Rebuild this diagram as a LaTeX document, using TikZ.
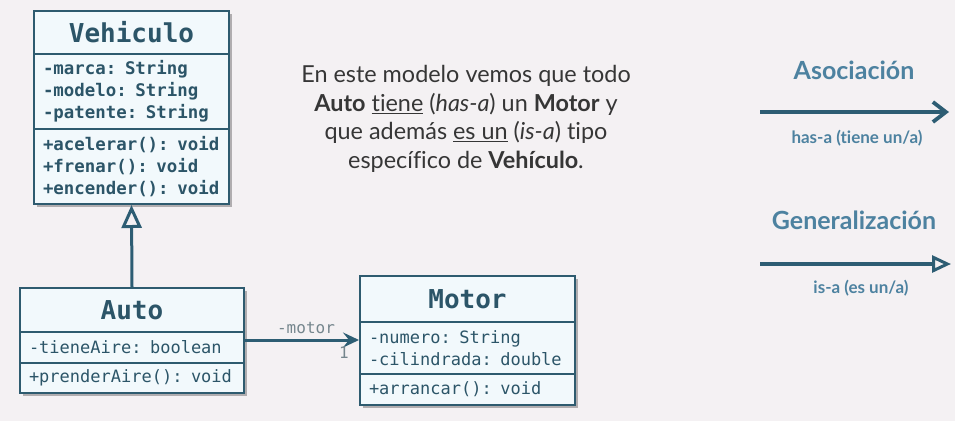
\documentclass[tikz,border=0pt]{standalone}
\usepackage{fontspec}
\setmainfont{Lato}[Ligatures=NoCommon]
\setmonofont{DejaVu Sans Mono}
\usetikzlibrary{arrows.meta,shadows}
\definecolor{bgcol}{HTML}{F4F1F3}
\definecolor{boxline}{HTML}{2E5B6F}
\definecolor{boxfill}{HTML}{F2F9FC}
\definecolor{boxtext}{HTML}{2C5568}
\definecolor{linecol}{HTML}{2D5D73}
\definecolor{headcol}{HTML}{4D82A0}
\definecolor{labcol}{HTML}{75868D}
\definecolor{notecol}{HTML}{363636}

\begin{document}
\begin{tikzpicture}[x=1pt, y=-1pt,
  slot/.style={draw=boxline, fill=boxfill, line width=2pt, anchor=north west,
    inner xsep=9pt, inner ysep=0pt, align=left, text=boxtext,
    font=\ttfamily\fontsize{17}{22}\selectfont,
    drop shadow={shadow xshift=3pt, shadow yshift=-3pt, opacity=0.28, fill=black}},
  bslot/.style={slot, font=\ttfamily\bfseries\fontsize{17.4}{22}\selectfont},
  clsname/.style={slot, align=center, font=\ttfamily\bfseries\fontsize{26}{30}\selectfont},
  gen/.style={draw=linecol, line width=3pt, -{Triangle[open, length=23pt, width=20pt, fill=bgcol]}},
  assoc/.style={draw=linecol, line width=3pt, -{Stealth[length=16pt, width=15pt, inset=6pt]}},
  legassoc/.style={draw=linecol, line width=3.8pt, -{Straight Barb[length=13pt, width=20pt, line width=3.8pt]}},
  leggen/.style={draw=linecol, line width=3.8pt, -{Triangle[open, length=19pt, width=17pt, line width=3pt, fill=bgcol]}},
  lab/.style={text=labcol, font=\ttfamily\fontsize{16}{18}\selectfont},
  head/.style={text=headcol, font=\bfseries\fontsize{25}{30}\selectfont},
  small/.style={text=headcol, font=\bfseries\fontsize{17}{20}\selectfont},
  note/.style={text=notecol, align=center, font=\fontsize{23.4}{28.5}\selectfont}]

\fill[bgcol] (0,0) rectangle (955,421);
\useasboundingbox (0,0) rectangle (955,421);

\node[clsname, text width=177pt, minimum height=43pt] at (33,10) (v0) {Vehiculo};
\node[bslot, text width=177pt, minimum height=75pt] at (33,53) (v1) {-marca: String\\-modelo: String\\-patente: String};
\node[bslot, text width=177pt, minimum height=75pt] at (33,128) (v2) {+acelerar(): void\\+frenar(): void\\+encender(): void};

\node[clsname, text width=206pt, minimum height=44pt] at (19,287) (a0) {Auto};
\node[slot, text width=206pt, minimum height=31pt] at (19,331) (a1) {-tieneAire: boolean};
\node[slot, text width=206pt, minimum height=30pt] at (19,362) (a2) {+prenderAire(): void};

\node[clsname, text width=197pt, minimum height=46pt] at (359,275) (m0) {Motor};
\node[slot, text width=197pt, minimum height=52pt] at (359,321) (m1) {-numero: String\\-cilindrada: double};
\node[slot, text width=197pt, minimum height=31pt] at (359,373) (m2) {+arrancar(): void};

\path (a0.north) edge[gen] (v2.south);
\path ([yshift=7.5pt]a1.east) edge[assoc] ([yshift=8pt]m1.west);

\node[lab] at (306,328) (l0) {-motor};
\node[lab] at (344,353) (l1) {1};

\node[note] at (466,119) (t0) {En este modelo vemos que todo\\\textbf{Auto} \underline{tiene} (\textit{has-a}) un \textbf{Motor} y\\que además \underline{es un} (\textit{is-a}) tipo\\específico de \textbf{Vehículo}.};

\node[head] at (854,70) (h0) {Asociación};
\node[small] at (857,138) (h1) {has-a (tiene un/a)};
\coordinate (p0) at (760,112);
\coordinate (p1) at (949,112);
\path (p0) edge[legassoc] (p1);

\node[head] at (854,220) (h2) {Generalización};
\node[small] at (861,288) (h3) {is-a (es un/a)};
\coordinate (q0) at (760,264);
\coordinate (q1) at (951,264);
\path (q0) edge[leggen] (q1);

\end{tikzpicture}
\end{document}
